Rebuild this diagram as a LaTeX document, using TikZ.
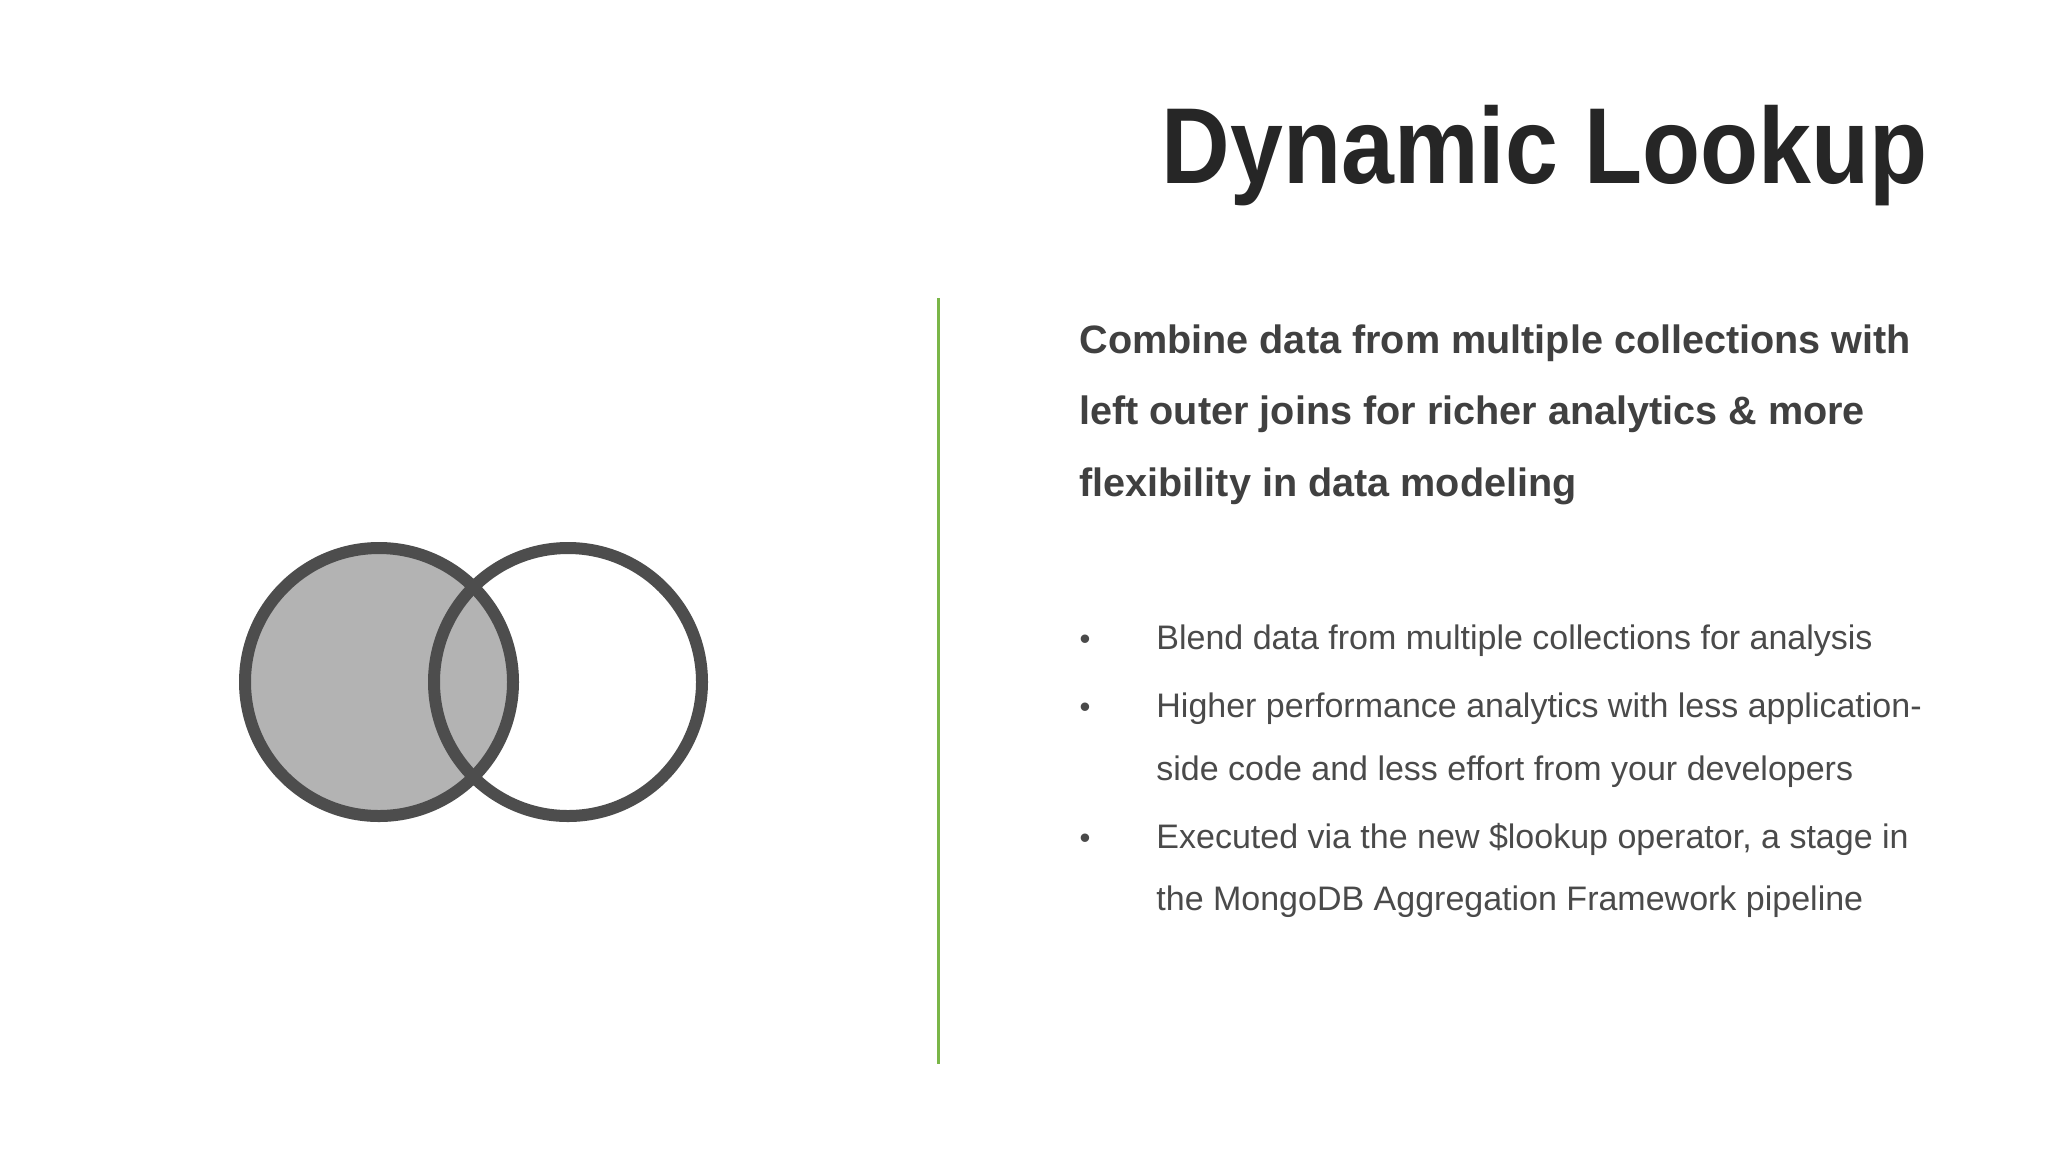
\documentclass[tikz,border=0pt]{standalone}
\usepackage{fontspec}
\setmainfont{Liberation Sans}
\definecolor{ttl}{HTML}{262626}
\definecolor{sub}{HTML}{404040}
\definecolor{bod}{HTML}{4a4a4a}
\definecolor{grn}{HTML}{7ab648}
\definecolor{ring}{HTML}{4d4d4d}
\definecolor{fillg}{HTML}{b3b3b3}
\begin{document}
\begin{tikzpicture}[x=0.5pt,y=-0.5pt,
  subt/.style={anchor=base west,inner sep=0,font=\fontsize{19.8}{22}\selectfont\bfseries,text=sub},
  bul/.style={anchor=base west,inner sep=0,font=\fontsize{17}{18}\selectfont,text=bod},
  dot/.style={anchor=base,inner sep=0,font=\fontsize{15.5}{18}\selectfont,text=bod}]
\useasboundingbox[fill=white] (0,0) rectangle (2048,1152);
\node[anchor=base east,inner sep=0,xscale=0.88,font=\fontsize{54}{60}\selectfont\bfseries,text=ttl] (title) at (1928,183) {Dynamic Lookup};
\draw[grn,line width=1.5pt] (938,298) coordinate (g1) -- (938,1064) coordinate (g2);
\fill[fillg] (379,682) circle (134);
\draw[ring,line width=6pt] (379,682) circle (134);
\draw[ring,line width=6pt] (568,682) circle (134);
\node[subt] (s1) at (1079,353) {Combine data from multiple collections with};
\node[subt] (s2) at (1079,424) {left outer joins for richer analytics \& more};
\node[subt] (s3) at (1079,496) {flexibility in data modeling};
\node[dot] (d1) at (1085,649) {•};
\node[dot] (d2) at (1085,717) {•};
\node[dot] (d3) at (1085,848) {•};
\node[bul] (b1) at (1156,649) {Blend data from multiple collections for analysis};
\node[bul] (b2) at (1156,717) {Higher performance analytics with less application-};
\node[bul] (b3) at (1156,780) {side code and less effort from your developers};
\node[bul] (b4) at (1156,848) {Executed via the new \$lookup operator, a stage in};
\node[bul] (b5) at (1156,910) {the MongoDB Aggregation Framework pipeline};
\end{tikzpicture}
\end{document}
